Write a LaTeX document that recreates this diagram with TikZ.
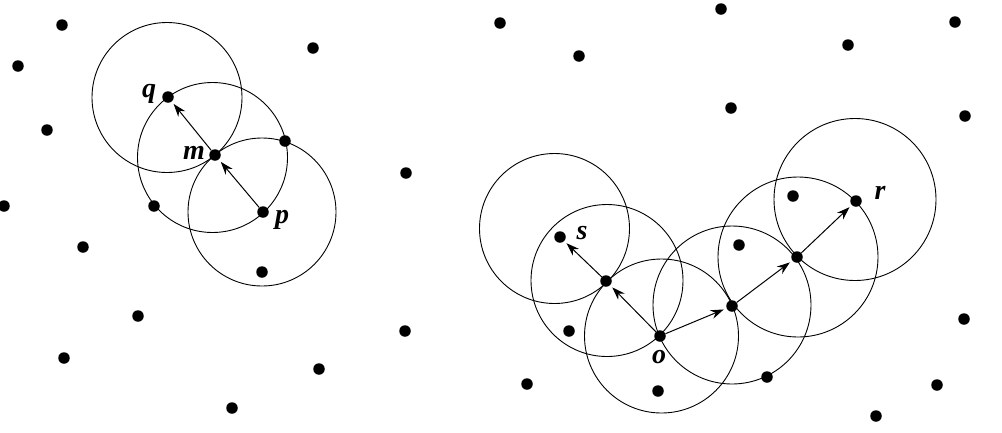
\documentclass[tikz,border=0pt]{standalone}
\usepackage{fontspec}
\setmainfont{Liberation Serif}
\usetikzlibrary{arrows.meta}
\begin{document}
\begin{tikzpicture}[x=1pt,y=-1pt,
  pt/.style={circle,fill=black,inner sep=0pt,minimum size=11.5pt},
  ring/.style={line width=0.9pt},
  arr/.style={line width=1pt,-{Stealth[length=13pt,width=9pt]},shorten >=3pt},
  lbl/.style={font=\fontsize{28}{32}\selectfont\bfseries\itshape,inner sep=0pt}]
\useasboundingbox (0,0) rectangle (1002,432);
% left points
\foreach \x/\y [count=\i] in {62/25,18/66,47/130,4/206,83/247,154/206,313/48,406/173,262/272,138/316,405/331,64/358,319/369,232/408,285/141}
  \node[pt] (L\i) at (\x,\y) {};
\node[pt] (q) at (168,97) {};
\node[pt] (m) at (215,155) {};
\node[pt] (p) at (263,212) {};
% right points
\foreach \x/\y [count=\i] in {500/23,579/56,721/9,848/45,955/22,731/108,965/116,964/319,527/384,658/391,767/377,937/385,876/416,569/331,739/245,793/196}
  \node[pt] (R\i) at (\x,\y) {};
\node[pt] (s) at (560,237) {};
\node[pt] (a) at (606,281) {};
\node[pt] (o) at (660,336) {};
\node[pt] (b) at (732,306) {};
\node[pt] (c) at (797,257) {};
\node[pt] (r) at (856,201) {};
% circles
\draw[ring] (167,97.5) circle[radius=75pt];
\draw[ring] (212.5,157.5) circle[radius=75pt];
\draw[ring] (262,212) circle[radius=74pt];
\draw[ring] (554.5,228.5) circle[radius=75pt];
\draw[ring] (607,280.5) circle[radius=76pt];
\draw[ring] (661.5,336) circle[radius=77pt];
\draw[ring] (732,305) circle[radius=79pt];
\draw[ring] (798,257) circle[radius=80pt];
\draw[ring] (855,199.5) circle[radius=81pt];
% arrows
\draw[arr] (m) -- (q);
\draw[arr] (p) -- (m);
\draw[arr] (o) -- (a);
\draw[arr] (a) -- (s);
\draw[arr] (o) -- (b);
\draw[arr] (b) -- (c);
\draw[arr] (c) -- (r);
% labels
\node[lbl] (lq) at (149,94) {q};
\node[lbl] (lm) at (194,153) {m};
\node[lbl] (lp) at (282,220) {p};
\node[lbl] (ls) at (582,233) {s};
\node[lbl] (lo) at (659,357) {o};
\node[lbl] (lr) at (880,193) {r};
\end{tikzpicture}
\end{document}
